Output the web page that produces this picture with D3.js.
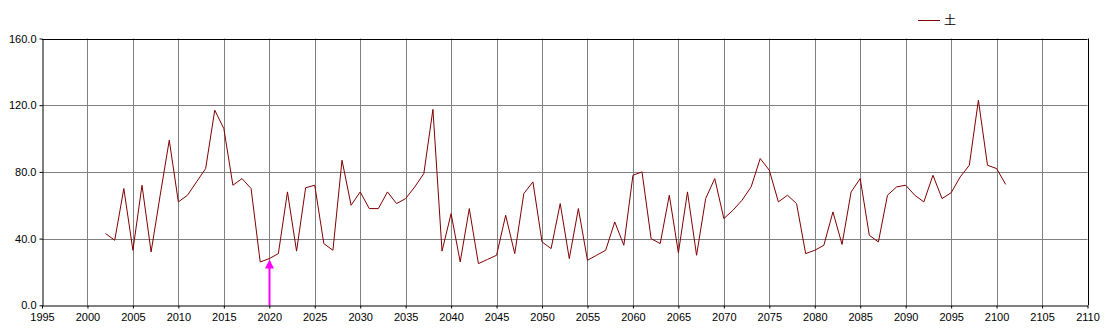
<!DOCTYPE html>
<html>
<head>
<meta charset="utf-8">
<script src="https://cdn.jsdelivr.net/npm/d3@7"></script>
<style>
  html, body { margin: 0; padding: 0; background: #fff; }
  svg { display: block; }
  text { font-family: "Liberation Sans", Arial, sans-serif; font-size: 11px; fill: #000; }
</style>
</head>
<body>
<svg id="chart" width="1105" height="333"></svg>
<script>
const years = d3.range(2002, 2102);
const values = [
  43, 39, 70, 33, 72, 32, 66, 99, 62, 66,
  74, 82, 117, 106, 72, 76, 70, 26, 28, 31,
  68, 32.5, 70.5, 72, 37, 33, 87, 60, 68, 58,
  58, 68, 61, 64, 71, 79, 117.5, 32.5, 55, 26,
  58, 25, 27.5, 30, 54, 31, 67, 74, 38, 34,
  61, 28, 58, 27, 30, 33, 50, 36, 78, 80,
  40, 37, 66, 31.5, 68, 30, 64, 76, 52, 57,
  63, 71, 88, 81, 62, 66, 61, 31, 33, 36,
  56, 36.5, 68, 76, 42, 38, 66, 71, 72, 66,
  62, 78, 64, 67.5, 77, 84, 123, 84, 82, 72.5
];
const xTicks = d3.range(1995, 2111, 5);
const yTicks = [0, 40, 80, 120, 160];
const seriesName = "土";
const markerYear = 2020;
const markerValue = 28;

(function () {
const svg = d3.select("#chart");
const mLeft = 42, mRight = 1087.5, mTop = 38.5, mBottom = 305.3;
const x = d3.scaleLinear().domain([1995, 2110]).range([mLeft, mRight]);
const y = d3.scaleLinear().domain([0, 160]).range([mBottom, mTop]);

// grid
svg.append("g").selectAll("line").data(xTicks.filter(t => t > 1995 && t < 2110))
  .join("line")
  .attr("x1", d => Math.round(x(d)) + 0.5).attr("x2", d => Math.round(x(d)) + 0.5)
  .attr("y1", mTop).attr("y2", mBottom)
  .attr("stroke", "#808080").attr("stroke-width", 1);
svg.append("g").selectAll("line").data(yTicks.filter(t => t > 0 && t < 160))
  .join("line")
  .attr("x1", mLeft).attr("x2", mRight)
  .attr("y1", d => Math.round(y(d)) + 0.5).attr("y2", d => Math.round(y(d)) + 0.5)
  .attr("stroke", "#808080").attr("stroke-width", 1);

// frame
svg.append("line").attr("x1", mLeft).attr("x2", mRight).attr("y1", Math.round(mTop) + 0.5).attr("y2", Math.round(mTop) + 0.5).attr("stroke", "#000");
svg.append("line").attr("x1", Math.round(mRight) + 0.5).attr("x2", Math.round(mRight) + 0.5).attr("y1", mTop).attr("y2", mBottom).attr("stroke", "#000");

// axes
const xAxis = d3.axisBottom(x).tickValues(xTicks).tickFormat(d3.format("d")).tickSizeInner(3).tickSizeOuter(0).tickPadding(5);
const gx = svg.append("g").attr("transform", `translate(0,${Math.round(mBottom) + 0.5})`).call(xAxis);
gx.select(".domain").attr("stroke", "#000");
gx.selectAll("text").style("font-family", "Liberation Sans, Arial, sans-serif").style("font-size", "11px").attr("fill", "#000");

const yAxis = d3.axisLeft(y).tickValues(yTicks).tickFormat(d3.format(".1f")).tickSizeInner(3).tickSizeOuter(0).tickPadding(3);
const gy = svg.append("g").attr("transform", `translate(${Math.round(mLeft) + 0.5},0)`).call(yAxis);
gy.select(".domain").attr("stroke", "#000");
gy.selectAll("text").style("font-family", "Liberation Sans, Arial, sans-serif").style("font-size", "11px").attr("fill", "#000");

// series
const line = d3.line().x((d, i) => x(years[i])).y(d => y(d));
svg.append("path").datum(values).attr("d", line)
  .attr("fill", "none").attr("stroke", "#800000").attr("stroke-width", 1);

// marker arrow
const ax = Math.round(x(markerYear)) + 0.5;
const tipY = y(markerValue) + 1;
svg.append("line").attr("x1", ax).attr("x2", ax).attr("y1", mBottom).attr("y2", tipY + 8)
  .attr("stroke", "#ff00ff").attr("stroke-width", 2);
svg.append("path")
  .attr("d", `M${ax},${tipY} L${ax - 4.5},${tipY + 9} L${ax + 4.5},${tipY + 9} Z`)
  .attr("fill", "#ff00ff");

// legend
svg.append("line").attr("x1", 918).attr("x2", 940).attr("y1", 20.5).attr("y2", 20.5)
  .attr("stroke", "#800000").attr("stroke-width", 1);
svg.append("text").attr("x", 944).attr("y", 24.5).text(seriesName)
  .style("font-family", "'Noto Sans CJK JP', sans-serif").style("font-size", "12px");
})();
</script>
</body>
</html>
